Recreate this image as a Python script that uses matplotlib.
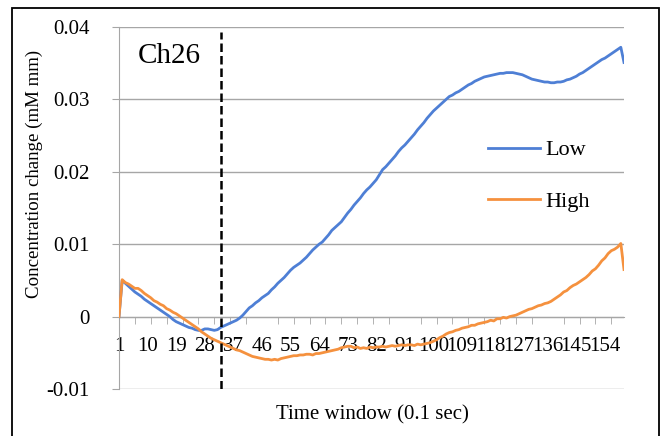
import numpy as np
import matplotlib
matplotlib.use("Agg")
import matplotlib.pyplot as plt
from matplotlib.patches import Rectangle

plt.rcParams['font.family'] = ['Liberation Serif', 'DejaVu Serif']

# time window index (1 .. 160)
t = np.arange(1, 161)

# "Low" series
low = [
    0.0000, 0.0050, 0.0046, 0.0042, 0.0038, 0.0034, 0.0031, 0.0028, 0.0024, 0.0021,
    0.0018, 0.0015, 0.0012, 0.0009, 0.0006, 0.0003, 0.0000, -0.0004, -0.0007, -0.0009,
    -0.0011, -0.0013, -0.0015, -0.0016, -0.0018, -0.0019, -0.0019, -0.0017, -0.0017, -0.0018,
    -0.0019, -0.0018, -0.0015, -0.0013, -0.0011, -0.0009, -0.0007, -0.0005, -0.0002, 0.0002,
    0.0007, 0.0012, 0.0015, 0.0019, 0.0022, 0.0026, 0.0029, 0.0032, 0.0037, 0.0041,
    0.0046, 0.0050, 0.0054, 0.0059, 0.0064, 0.0068, 0.0071, 0.0074, 0.0078, 0.0082,
    0.0087, 0.0092, 0.0096, 0.0100, 0.0103, 0.0108, 0.0113, 0.0119, 0.0123, 0.0127,
    0.0131, 0.0137, 0.0143, 0.0148, 0.0154, 0.0159, 0.0164, 0.0170, 0.0175, 0.0179,
    0.0184, 0.0189, 0.0196, 0.0203, 0.0207, 0.0212, 0.0217, 0.0222, 0.0228, 0.0233,
    0.0237, 0.0242, 0.0247, 0.0252, 0.0258, 0.0263, 0.0268, 0.0274, 0.0279, 0.0284,
    0.0288, 0.0292, 0.0296, 0.0300, 0.0304, 0.0306, 0.0309, 0.0311, 0.0314, 0.0317,
    0.0320, 0.0322, 0.0325, 0.0327, 0.0329, 0.0331, 0.0332, 0.0333, 0.0334, 0.0335,
    0.0336, 0.0336, 0.0337, 0.0337, 0.0337, 0.0336, 0.0335, 0.0334, 0.0332, 0.0330,
    0.0328, 0.0327, 0.0326, 0.0325, 0.0324, 0.0324, 0.0323, 0.0323, 0.0324, 0.0324,
    0.0325, 0.0327, 0.0328, 0.0330, 0.0332, 0.0335, 0.0337, 0.0340, 0.0343, 0.0346,
    0.0349, 0.0352, 0.0355, 0.0357, 0.0360, 0.0363, 0.0366, 0.0369, 0.0372, 0.0351,
]

# "High" series
high = [
    0.0000, 0.0051, 0.0047, 0.0045, 0.0042, 0.0039, 0.0039, 0.0036, 0.0032, 0.0029,
    0.0026, 0.0022, 0.0020, 0.0017, 0.0015, 0.0011, 0.0009, 0.0006, 0.0004, 0.0001,
    -0.0002, -0.0005, -0.0008, -0.0011, -0.0014, -0.0017, -0.0021, -0.0024, -0.0027, -0.0030,
    -0.0032, -0.0034, -0.0036, -0.0038, -0.0040, -0.0042, -0.0044, -0.0046, -0.0047, -0.0049,
    -0.0051, -0.0053, -0.0055, -0.0056, -0.0057, -0.0058, -0.0059, -0.0059, -0.0060, -0.0059,
    -0.0060, -0.0058, -0.0057, -0.0056, -0.0055, -0.0054, -0.0054, -0.0053, -0.0053, -0.0052,
    -0.0052, -0.0053, -0.0051, -0.0051, -0.0050, -0.0049, -0.0048, -0.0047, -0.0046, -0.0045,
    -0.0043, -0.0042, -0.0041, -0.0041, -0.0043, -0.0042, -0.0044, -0.0043, -0.0044, -0.0042,
    -0.0043, -0.0042, -0.0042, -0.0041, -0.0042, -0.0041, -0.0040, -0.0041, -0.0040, -0.0039,
    -0.0040, -0.0039, -0.0039, -0.0040, -0.0038, -0.0039, -0.0038, -0.0037, -0.0036, -0.0034,
    -0.0032, -0.0029, -0.0027, -0.0024, -0.0022, -0.0021, -0.0019, -0.0018, -0.0016, -0.0015,
    -0.0014, -0.0012, -0.0012, -0.0010, -0.0009, -0.0008, -0.0007, -0.0005, -0.0006, -0.0003,
    -0.0003, -0.0001, -0.0002, 0.0000, 0.0001, 0.0002, 0.0004, 0.0006, 0.0008, 0.0010,
    0.0011, 0.0013, 0.0015, 0.0016, 0.0018, 0.0019, 0.0021, 0.0024, 0.0027, 0.0030,
    0.0034, 0.0036, 0.0040, 0.0043, 0.0045, 0.0048, 0.0051, 0.0054, 0.0058, 0.0063,
    0.0066, 0.0071, 0.0077, 0.0081, 0.0087, 0.0091, 0.0093, 0.0096, 0.0101, 0.0065,
]

yticks = [-0.01, 0, 0.01, 0.02, 0.03, 0.04]
ylabels = ['-0.01', '0', '0.01', '0.02', '0.03', '0.04']
xlabel_pos = list(range(1, 161, 9))      # 1, 10, 19 ... 154
xtickmark_pos = list(range(1, 161, 5))   # small marks on the axis
marker_x = 33
marker_y = [-0.01, 0.0393]

grey = '#a6a6a6'

fig = plt.figure(figsize=(6.61, 4.36), dpi=100)
ax = fig.add_axes([119/661, 1-389/436, 505/661, 362/436])

ax.plot(t, low, color='#4e7fd5', lw=2.0, label='Low', zorder=3)
ax.plot(t, high, color='#f5913e', lw=2.0, label='High', zorder=3)
ax.plot([marker_x, marker_x], marker_y, color='black', lw=1.8,
        ls=(0, (3.4, 1.6)), zorder=4)

ax.set_xlim(1, 160)
ax.set_ylim(-0.01, 0.04)
ax.set_yticks(yticks)
ax.set_yticklabels(ylabels, fontsize=15)
ax.yaxis.grid(True, color=grey, lw=1)
ax.set_axisbelow(True)

ax.spines['top'].set_visible(False)
ax.spines['right'].set_visible(False)
ax.spines['bottom'].set_position(('data', 0))
ax.spines['bottom'].set_color(grey)
ax.spines['left'].set_color(grey)
ax.tick_params(axis='y', length=5, color=grey, pad=16)

ax.set_xticks(xlabel_pos)
ax.set_xticklabels([str(v) for v in xlabel_pos], fontsize=15)
ax.set_xticks(xtickmark_pos, minor=True)
ax.tick_params(axis='x', which='major', length=0, pad=15)
ax.tick_params(axis='x', which='minor', length=5, color=grey, direction='out')

ax.set_xlabel('Time window (0.1 sec)', fontsize=15)
ax.xaxis.set_label_coords(0.501, (389-405)/362)
ax.set_ylabel('Concentration change (mM mm)', fontsize=13.6)
ax.yaxis.set_label_coords((43-119)/505, (389-174)/362)

ax.text((138-119)/505, (389-56)/362, 'Ch26', transform=ax.transAxes,
        fontsize=21, va='center', ha='left')

ax.legend(loc='center left', bbox_to_anchor=((488-119)/505, (389-176)/362),
          frameon=False, fontsize=16, handlelength=2.35, handletextpad=0.25,
          labelspacing=1.4, borderpad=0, borderaxespad=0)

# outer frame of the chart
fig.patches.append(Rectangle((12/661, -0.05), 647/661, 1.05-8/436,
                             transform=fig.transFigure, fill=False,
                             edgecolor='black', lw=1.3))

fig.savefig('out.png', dpi=100)
